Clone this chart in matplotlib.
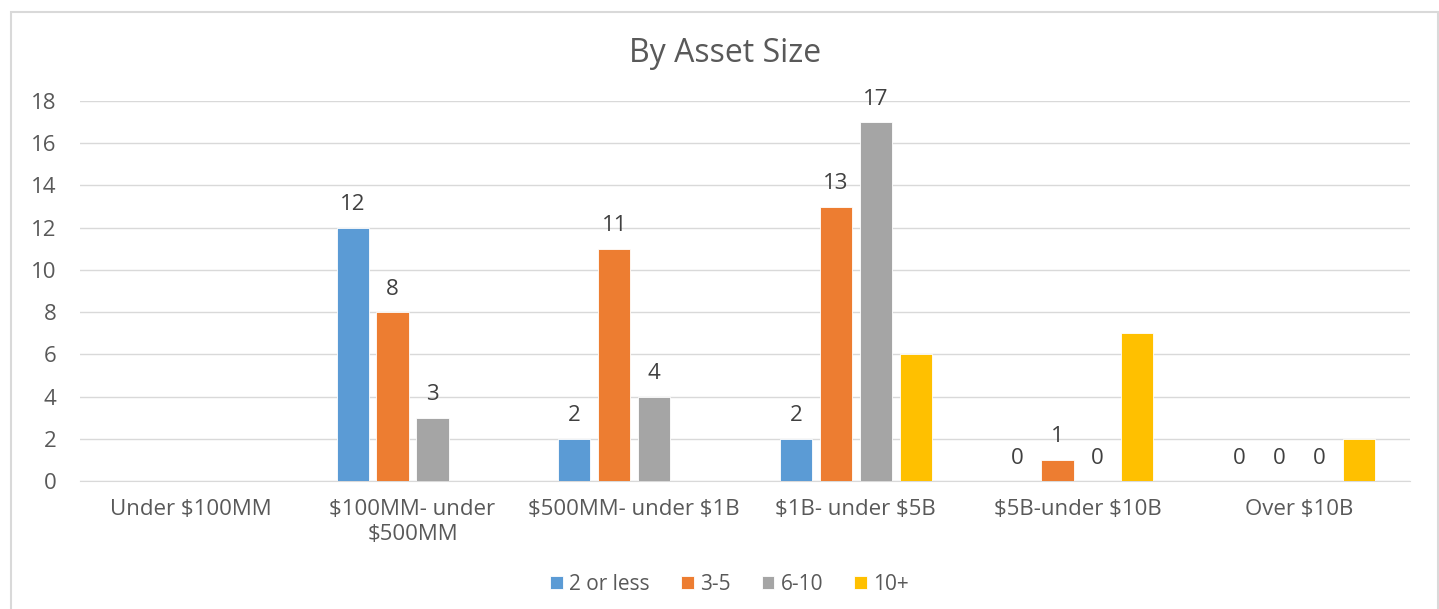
import numpy as np
import matplotlib
matplotlib.use("Agg")
import matplotlib.pyplot as plt
from matplotlib.patches import Rectangle

# asset size buckets and counts per series (nan = no bar drawn)
categories = ["Under $100MM", "$100MM- under\n$500MM", "$500MM- under $1B",
              "$1B- under $5B", "$5B-under $10B", "Over $10B"]
series_names = ["2 or less", "3-5", "6-10", "10+"]
two_or_less = [np.nan, 12, 2, 2, 0, 0]
three_to_five = [np.nan, 8, 11, 13, 1, 0]
six_to_ten = [np.nan, 3, 4, 17, 0, 0]
ten_plus = [np.nan, np.nan, np.nan, 6, 7, 2]
colors = ["#5B9BD5", "#ED7D31", "#A5A5A5", "#FFC000"]
show_labels = [True, True, True, False]

plt.rcParams['font.family'] = ['Open Sans', 'DejaVu Sans']
text_col = "#595959"
grid_col = "#D9D9D9"

fig = plt.figure(figsize=(14.39, 6.09), dpi=100)
fig.patches.append(Rectangle((11 / 1439, -0.1), (1427 / 1439), 1.1 - 12 / 609,
                             transform=fig.transFigure, fill=False,
                             edgecolor=grid_col, linewidth=1.5))
ax = fig.add_axes([80 / 1439, 128 / 609, 1330 / 1439, 380 / 609])

x = np.arange(len(categories))
slot = 0.18
width = 0.145
all_series = [two_or_less, three_to_five, six_to_ten, ten_plus]
for i, (vals, name, col, lab) in enumerate(zip(all_series, series_names, colors, show_labels)):
    vals = np.array(vals, dtype=float)
    keep = ~np.isnan(vals)
    pos = (x + (i - 1.5) * slot)[keep]
    bars = ax.bar(pos, vals[keep], width, color=col, label=name,
                  edgecolor="white", linewidth=0.6, zorder=3)
    if lab:
        for b, v in zip(bars, vals[keep]):
            ax.annotate(f"{int(v)}", (b.get_x() + b.get_width() / 2, v),
                        xytext=(0, 9), textcoords="offset points",
                        ha="center", va="bottom", fontsize=16, color="#404040")

ax.set_xlim(-0.5, len(categories) - 0.5)
ax.set_ylim(0, 18)
ax.set_yticks(np.arange(0, 19, 2))
ax.set_xticks(x)
ax.set_xticklabels([c.replace("$", r"\$") for c in categories],
                   fontsize=16, color=text_col, linespacing=1.25)
ax.tick_params(axis="y", labelsize=16, labelcolor=text_col, length=0, pad=17)
ax.tick_params(axis="x", length=0, pad=13)
ax.yaxis.grid(True, color=grid_col, linewidth=1, zorder=0)
for side in ["top", "right", "left"]:
    ax.spines[side].set_visible(False)
ax.spines["bottom"].set_color(grid_col)
ax.set_axisbelow(True)

fig.text(0.504, 1 - 54 / 609, "By Asset Size", ha="center", va="center",
         fontsize=23, color=text_col)

fig.legend(loc="center", bbox_to_anchor=(0.507, 1 - 584 / 609), ncol=4,
           frameon=False, fontsize=15, handlelength=0.6, handleheight=0.6,
           handletextpad=0.3, columnspacing=1.5, labelcolor=text_col)

fig.savefig("out.png", dpi=100)
